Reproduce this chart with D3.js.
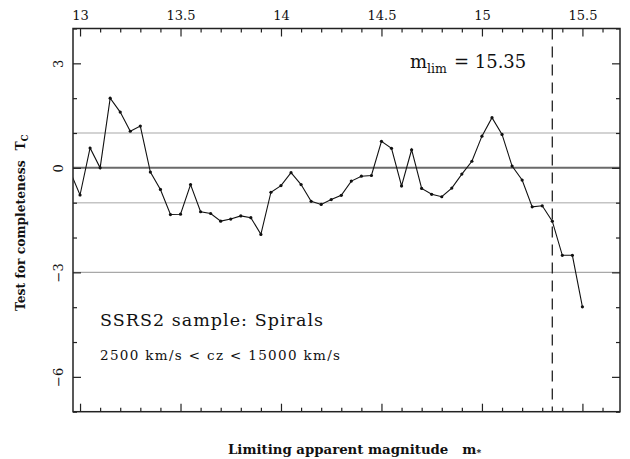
<!DOCTYPE html>
<html>
<head>
<meta charset="utf-8">
<script src="https://cdn.jsdelivr.net/npm/d3@7"></script>
<style>
  html, body { margin: 0; padding: 0; background: #fff; }
  svg { display: block; }
  text { font-family: "DejaVu Serif", "Liberation Serif", serif; fill: #111; }
</style>
</head>
<body>
<svg id="chart" width="630" height="459"></svg>
<script>
// ---- data ----
const magnitudes = [12.95, 13.00, 13.05, 13.10, 13.15, 13.20, 13.25, 13.30, 13.35, 13.40,
  13.45, 13.50, 13.55, 13.60, 13.65, 13.70, 13.75, 13.80, 13.85, 13.90,
  13.95, 14.00, 14.05, 14.10, 14.15, 14.20, 14.25, 14.30, 14.35, 14.40,
  14.45, 14.50, 14.55, 14.60, 14.65, 14.70, 14.75, 14.80, 14.85, 14.90,
  14.95, 15.00, 15.05, 15.10, 15.15, 15.20, 15.25, 15.30, 15.35, 15.40,
  15.45, 15.50];
const tcValues = [-0.10, -0.78, 0.57, 0.00, 2.00, 1.60, 1.05, 1.20, -0.12, -0.62,
  -1.34, -1.33, -0.48, -1.26, -1.31, -1.53, -1.47, -1.38, -1.43, -1.91,
  -0.70, -0.51, -0.14, -0.48, -0.96, -1.05, -0.91, -0.79, -0.38, -0.24,
  -0.22, 0.76, 0.56, -0.52, 0.52, -0.59, -0.76, -0.83, -0.58, -0.18,
  0.19, 0.91, 1.44, 0.96, 0.05, -0.35, -1.12, -1.09, -1.53, -2.51,
  -2.51, -3.99];
const xMajorTicks = [13, 13.5, 14, 14.5, 15, 15.5];
const xTickLabels = ["13", "13.5", "14", "14.5", "15", "15.5"];
const yMajorTicks = [3, 0, -3, -6];
const yMinorTicks = [4, 2, 1, -1, -2, -4, -5, -7];
const refLinesLight = [1, -1];
const refLinesMid = [-3];
const refLinesZero = [0];
const mLim = 15.35;

// ---- layout ----
const svg = d3.select("#chart");
const L = 73, R = 620, T = 28.5, B = 411.7;
const x = d3.scaleLinear().domain([12.965, 15.687]).range([L, R]);
const y = d3.scaleLinear().domain([4, -7]).range([T, B]);

const xMinor = d3.range(130, 157).map(v => v / 10).filter(v => !xMajorTicks.includes(v));

svg.append("defs").append("clipPath").attr("id", "plotclip")
  .append("rect").attr("x", L).attr("y", T).attr("width", R - L).attr("height", B - T);

// reference lines
const refs = svg.append("g");
refs.selectAll(".rl").data(refLinesLight).join("line")
  .attr("x1", L).attr("x2", R).attr("y1", d => y(d)).attr("y2", d => y(d))
  .attr("stroke", "#c4c4c4").attr("stroke-width", 1.6);
refs.selectAll(".rm").data(refLinesMid).join("line")
  .attr("x1", L).attr("x2", R).attr("y1", d => y(d)).attr("y2", d => y(d))
  .attr("stroke", "#a8a8a8").attr("stroke-width", 1.4);
refs.selectAll(".rz").data(refLinesZero).join("line")
  .attr("x1", L).attr("x2", R).attr("y1", d => y(d)).attr("y2", d => y(d))
  .attr("stroke", "#6a6a6a").attr("stroke-width", 2);

// dashed limit line
svg.append("line")
  .attr("x1", x(mLim)).attr("x2", x(mLim)).attr("y1", T).attr("y2", B)
  .attr("stroke", "#111").attr("stroke-width", 1.2)
  .attr("stroke-dasharray", "11,7");

// data line
const data = magnitudes.map((m, i) => ({ m, v: tcValues[i] }));
const line = d3.line().x(d => x(d.m)).y(d => y(d.v));
const plot = svg.append("g").attr("clip-path", "url(#plotclip)");
plot.append("path").datum(data).attr("d", line)
  .attr("fill", "none").attr("stroke", "#111").attr("stroke-width", 1.1);
plot.selectAll("circle").data(data).join("circle")
  .attr("cx", d => x(d.m)).attr("cy", d => y(d.v)).attr("r", 1.6).attr("fill", "#111");

// axes
function styleAxis(g) {
  g.select(".domain").remove();
  g.selectAll(".tick line").attr("stroke", "#222").attr("stroke-width", 1.2);
}
// top
const topAx = svg.append("g").attr("transform", `translate(0,${T})`)
  .call(d3.axisTop(x).tickValues(xMajorTicks).tickSizeInner(-8).tickSizeOuter(0).tickPadding(8.5)
    .tickFormat((d, i) => xTickLabels[i]));
styleAxis(topAx);
topAx.selectAll("text").attr("font-size", 13).attr("fill", "#111")
  .style("font-family", '"DejaVu Serif", serif');
svg.append("g").attr("transform", `translate(0,${T})`)
  .call(d3.axisTop(x).tickValues(xMinor).tickSizeInner(-4).tickSizeOuter(0).tickFormat(""))
  .call(styleAxis);
// bottom
svg.append("g").attr("transform", `translate(0,${B})`)
  .call(d3.axisBottom(x).tickValues(xMajorTicks).tickSizeInner(-8).tickSizeOuter(0).tickFormat(""))
  .call(styleAxis);
svg.append("g").attr("transform", `translate(0,${B})`)
  .call(d3.axisBottom(x).tickValues(xMinor).tickSizeInner(-4).tickSizeOuter(0).tickFormat(""))
  .call(styleAxis);
// left
const leftAx = svg.append("g").attr("transform", `translate(${L},0)`)
  .call(d3.axisLeft(y).tickValues(yMajorTicks).tickSizeInner(-8).tickSizeOuter(0));
styleAxis(leftAx);
leftAx.selectAll("text")
  .attr("x", null).attr("dy", null)
  .attr("text-anchor", "middle")
  .attr("transform", "translate(-10,0) rotate(-90)")
  .attr("font-size", 13).attr("fill", "#111")
  .style("font-family", '"DejaVu Serif", serif');
svg.append("g").attr("transform", `translate(${L},0)`)
  .call(d3.axisLeft(y).tickValues(yMinorTicks).tickSizeInner(-4).tickSizeOuter(0).tickFormat(""))
  .call(styleAxis);
// right
svg.append("g").attr("transform", `translate(${R},0)`)
  .call(d3.axisRight(y).tickValues(yMajorTicks).tickSizeInner(-8).tickSizeOuter(0).tickFormat(""))
  .call(styleAxis);
svg.append("g").attr("transform", `translate(${R},0)`)
  .call(d3.axisRight(y).tickValues(yMinorTicks).tickSizeInner(-4).tickSizeOuter(0).tickFormat(""))
  .call(styleAxis);

// frame
svg.append("rect").attr("x", L).attr("y", T).attr("width", R - L).attr("height", B - T)
  .attr("fill", "none").attr("stroke", "#222").attr("stroke-width", 1.5);

// annotations
const ml = svg.append("text").attr("x", 410).attr("y", 68).attr("font-size", 18);
ml.append("tspan").text("m");
ml.append("tspan").attr("font-size", 12.5).attr("dy", 5).text("lim");
ml.append("tspan").attr("dy", -5).attr("dx", 7).text("=  15.35");

svg.append("text").attr("x", 100).attr("y", 326).attr("font-size", 17.5)
  .attr("textLength", 223).attr("lengthAdjust", "spacing")
  .text("SSRS2 sample: Spirals");
svg.append("text").attr("x", 100).attr("y", 360).attr("font-size", 13.5)
  .attr("textLength", 240).attr("lengthAdjust", "spacing")
  .text("2500 km/s < cz < 15000 km/s");

// axis titles
const xt = svg.append("text").attr("x", 228).attr("y", 454).attr("font-size", 13.3)
  .attr("font-weight", "bold");
xt.append("tspan").text("Limiting apparent magnitude");
xt.append("tspan").attr("dx", 14).text("m");
xt.append("tspan").attr("font-size", 9).attr("dy", 2).text("*");

const yt = svg.append("text").attr("transform", "translate(25,311) rotate(-90)")
  .attr("font-size", 12.3).attr("font-weight", "bold");
yt.append("tspan").text("Test for completeness");
yt.append("tspan").attr("dx", 10).text("T");
yt.append("tspan").attr("font-size", 8.5).attr("dy", 3).text("C");
</script>
</body>
</html>
